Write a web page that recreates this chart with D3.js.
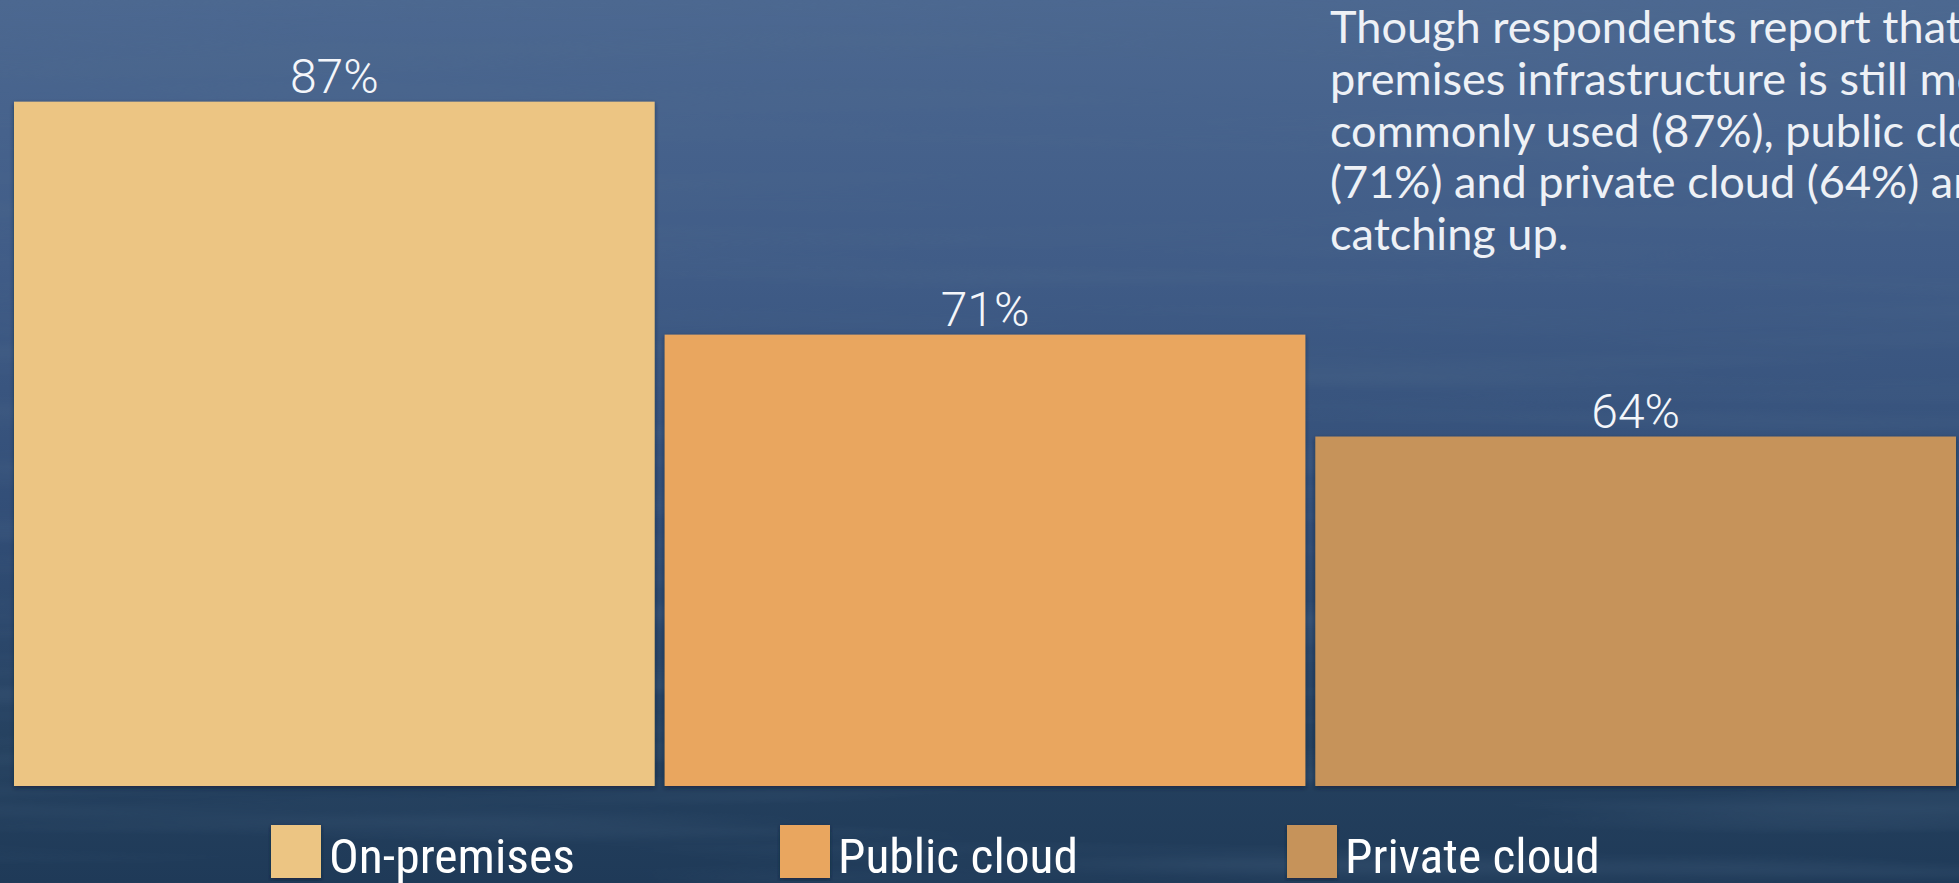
<!DOCTYPE html>
<html>
<head>
<meta charset="utf-8">
<script src="https://cdn.jsdelivr.net/npm/d3@7"></script>
<style>
  html, body { margin: 0; padding: 0; overflow: hidden; background: #2f4a72; }
  svg { display: block; }
  .label { fill: #f4f6fa; font-family: Roboto, sans-serif; font-weight: 300; }
  .note { fill: #eef1f6; font-family: Lato, "Open Sans", sans-serif; }
  .legend text { fill: #ffffff; font-family: "Liberation Sans Narrow", "Roboto Condensed", Roboto, sans-serif; }
</style>
</head>
<body>
<div id="chart"></div>
<script>
var categories = ['On-premises', 'Public cloud', 'Private cloud']
var values = [87, 71, 64]
var colors = ['#ecc583', '#e9a65f', '#c6935a']
var noteLines = [
  'Though respondents report that on-',
  'premises infrastructure is still most',
  'commonly used (87%), public cloud',
  '(71%) and private cloud (64%) are',
  'catching up.'
]

var width = 1959, height = 883

var svg = d3.select('#chart').append('svg')
  .attr('width', width)
  .attr('height', height)

// water-ish background
var defs = svg.append('defs')
var bg = defs.append('linearGradient').attr('id', 'bg')
  .attr('x1', 0).attr('y1', 0).attr('x2', 0).attr('y2', 1)
bg.append('stop').attr('offset', '0%').attr('stop-color', '#4c6891')
bg.append('stop').attr('offset', '30%').attr('stop-color', '#405c87')
bg.append('stop').attr('offset', '60%').attr('stop-color', '#314d76')
bg.append('stop').attr('offset', '85%').attr('stop-color', '#25415f')
bg.append('stop').attr('offset', '100%').attr('stop-color', '#1f3a58')

var ripple = defs.append('filter').attr('id', 'ripple')
  .attr('x', 0).attr('y', 0).attr('width', '100%').attr('height', '100%')
ripple.append('feTurbulence')
  .attr('type', 'fractalNoise')
  .attr('baseFrequency', '0.0012 0.035')
  .attr('numOctaves', 2)
  .attr('seed', 7)
ripple.append('feColorMatrix')
  .attr('type', 'matrix')
  .attr('values', '0 0 0 0 0.08  0 0 0 0 0.15  0 0 0 0 0.26  1.1 0 0 0 -0.45')

var shadow = defs.append('filter').attr('id', 'shadow')
  .attr('x', '-5%').attr('y', '-5%').attr('width', '110%').attr('height', '110%')
shadow.append('feDropShadow')
  .attr('dx', 0).attr('dy', 2).attr('stdDeviation', 2)
  .attr('flood-color', '#0a1a30').attr('flood-opacity', 0.6)

svg.append('rect').attr('width', width).attr('height', height).attr('fill', 'url(#bg)')
svg.append('rect').attr('width', width).attr('height', height)
  .attr('fill', '#000').attr('filter', 'url(#ripple)').attr('opacity', 0.55)

var x = d3.scaleBand()
  .domain(categories)
  .range([14, 1956])
  .paddingInner(0.0154)
  .paddingOuter(0)

var y = d3.scaleLinear()
  .domain([40, 90])
  .range([786, 58])

var color = d3.scaleOrdinal().domain(categories).range(colors)

var data = categories.map(function(d, i){ return {cat: d, value: values[i]} })

svg.selectAll('rect.bar')
  .data(data)
  .join('rect')
  .attr('class', 'bar')
  .attr('x', d => x(d.cat))
  .attr('width', x.bandwidth())
  .attr('y', d => y(d.value))
  .attr('height', d => y.range()[0] - y(d.value))
  .attr('fill', d => color(d.cat))
  .attr('filter', 'url(#shadow)')

svg.selectAll('text.label')
  .data(data)
  .join('text')
  .attr('class', 'label')
  .attr('x', d => x(d.cat) + x.bandwidth() / 2)
  .attr('y', d => y(d.value) - 9)
  .attr('text-anchor', 'middle')
  .attr('font-size', 48)
  .text(d => d.value + '%')

// side note, sized so the first line runs off the right edge like the original
var note = svg.append('text').attr('class', 'note').attr('font-size', 40)
var probe = note.append('tspan').text('Though respondents report that')
var w = probe.node().getComputedTextLength()
probe.remove()
note.attr('font-size', 40 * 632 / w)

note.selectAll('tspan')
  .data(noteLines)
  .join('tspan')
  .attr('x', 1330)
  .attr('y', (d, i) => 43 + i * 51.75)
  .text(d => d)

// legend
var legendX = [271, 780, 1287]
var legendW = [246, 240, 255]

var leg = svg.append('g').attr('class', 'legend')
  .selectAll('g')
  .data(data)
  .join('g')
  .attr('transform', (d, i) => 'translate(' + legendX[i] + ',0)')

leg.append('rect')
  .attr('y', 825)
  .attr('width', 50)
  .attr('height', 53)
  .attr('fill', d => color(d.cat))
  .attr('filter', 'url(#shadow)')

leg.append('text')
  .attr('x', 58)
  .attr('y', 873)
  .attr('font-size', 49)
  .text(d => d.cat)
  .each(function(d, i){
    var tw = this.getComputedTextLength()
    d3.select(this).attr('transform', 'translate(58,0) scale(' + (legendW[i] / tw) + ',1) translate(-58,0)')
  })
</script>
</body>
</html>
